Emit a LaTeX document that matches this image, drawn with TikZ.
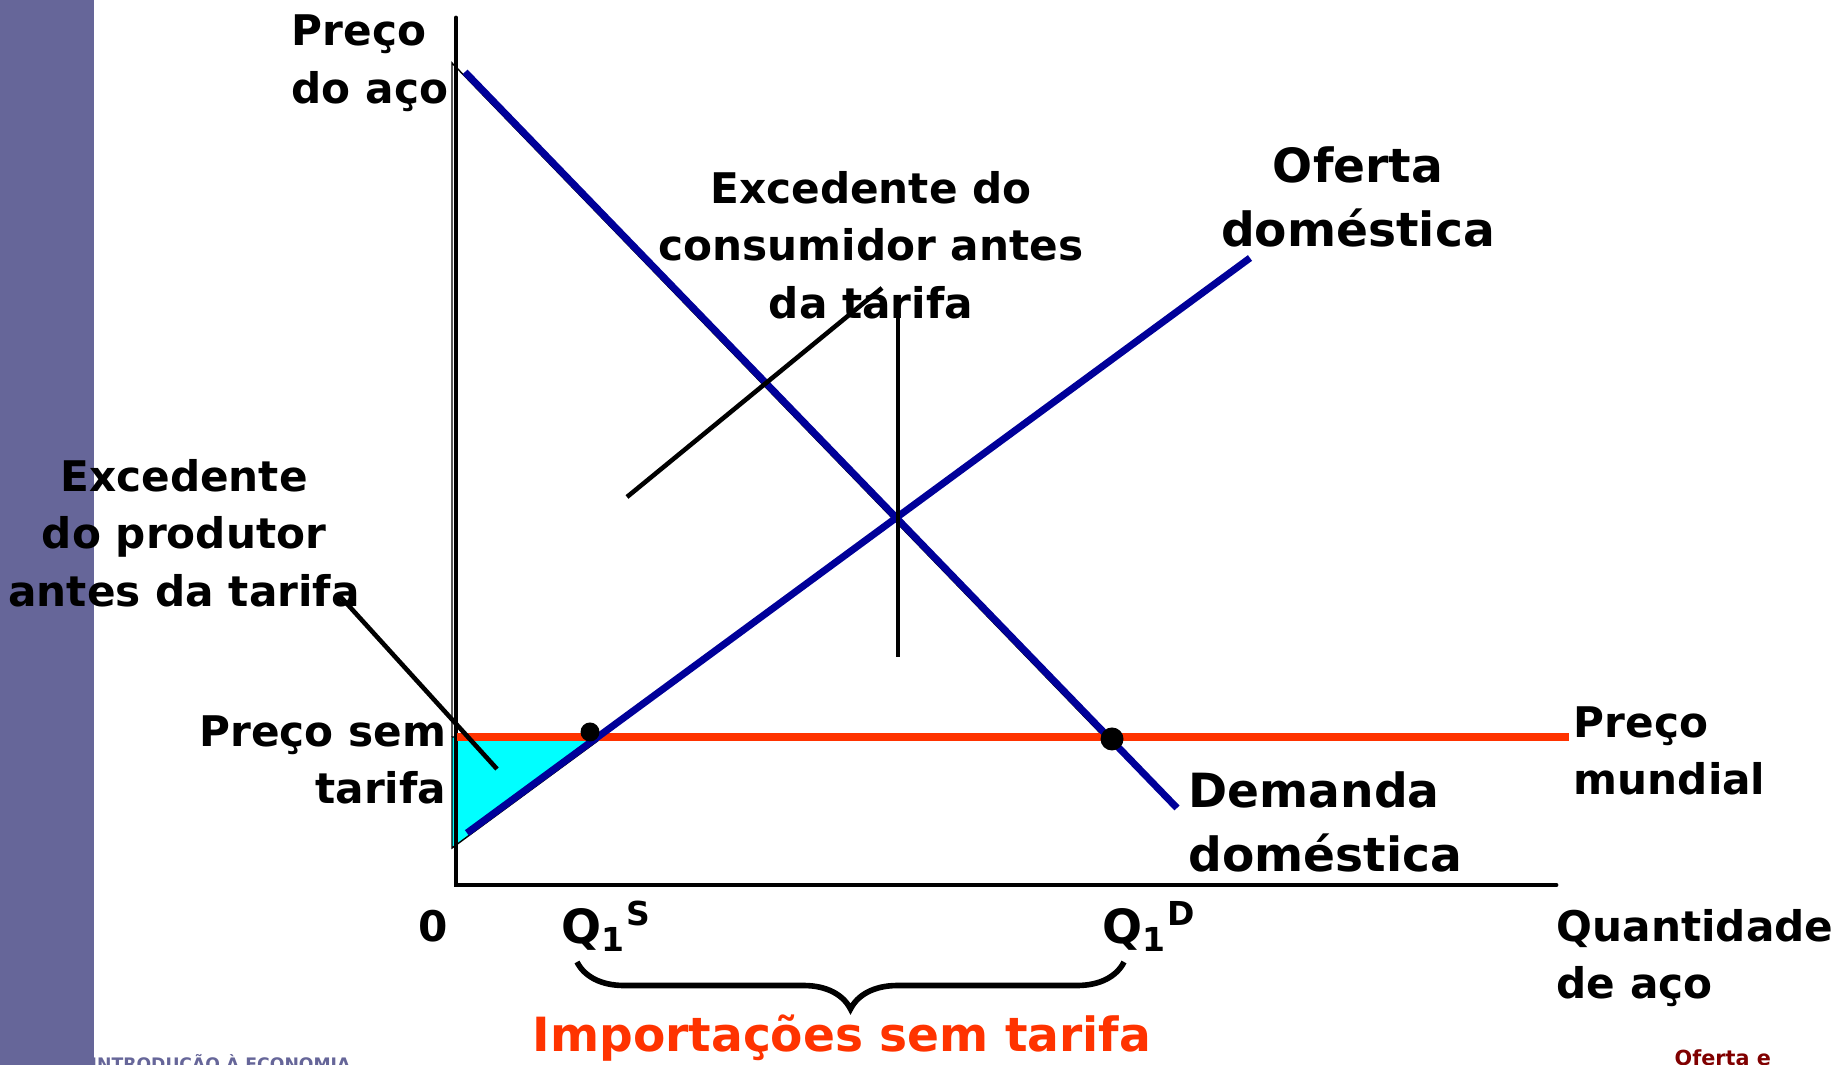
\documentclass[tikz,border=0pt]{standalone}
\usepackage{fontspec}
\setmainfont{DejaVu Sans}
\usepackage{xcolor}
\usetikzlibrary{decorations.pathreplacing}
\definecolor{barra}{HTML}{666699}
\definecolor{azul}{HTML}{000099}
\definecolor{laranja}{HTML}{FF3300}
\definecolor{ciano}{HTML}{00FFFF}
\definecolor{vinho}{HTML}{800000}

\begin{document}
\begin{tikzpicture}[x=0.01cm,y=-0.01cm,
  txt/.style={font=\bfseries\fontsize{12}{16.4}\selectfont,inner sep=0pt},
  big/.style={font=\bfseries\fontsize{13.4}{18.3}\selectfont,inner sep=0pt},
  curva/.style={azul,line width=2pt},
  seta/.style={line width=1.3pt},
  ponto/.style={circle,fill=black,inner sep=0pt,minimum size=#1}]
\clip (0,0) rectangle (1839,1065);
\fill[barra] (0,0) rectangle (94,1065);

\coordinate (O) at (456,885);
\coordinate (Ytop) at (456,18);
\coordinate (Xend) at (1556,885);
\coordinate (D1) at (465,72);
\coordinate (D2) at (1177,808);
\coordinate (S1) at (467,833);
\coordinate (S2) at (1250,258);
\coordinate (W1) at (457,737);
\coordinate (W2) at (1569,737);
\coordinate (V1) at (898,307);
\coordinate (V2) at (898,657);
\coordinate (C1) at (627,497);
\coordinate (C2) at (882,288);
\coordinate (P1) at (339,595);
\coordinate (P2) at (497,769);
\coordinate (B1) at (577,962);
\coordinate (B2) at (1124,962);

\filldraw[fill=ciano,draw=black,thin] (452,737) -- (603,737) -- (452,848) -- cycle;
\draw[thin] (452,737) -- (452,63) -- (1104,737);

\draw[line width=1.4pt,line cap=round] (Ytop) -- (O) -- (Xend);
\draw[laranja,line width=2.1pt] (W1) -- (W2);
\draw[curva] (D1) -- (D2);
\draw[curva] (S1) -- (S2);

\node[ponto=0.19cm] (QSd) at (590,732) {};
\node[ponto=0.23cm] (QDd) at (1112,739) {};

\draw[seta] (V1) -- (V2);
\draw[seta] (C1) -- (C2);
\draw[seta] (P1) -- (P2);
\draw[line width=1.6pt,decorate,decoration={brace,mirror,amplitude=0.47cm}] (B1) -- (B2);

\node[txt,align=left,anchor=west] (PA) at (291,63) {Preço\\do aço};
\node[txt,align=center] (EC) at (871,245) {Excedente do\\consumidor antes\\da tarifa};
\node[big,align=center] (OD) at (1358,197) {Oferta\\doméstica};
\node[txt,align=center] (EP) at (184,533) {Excedente\\do produtor\\antes da tarifa};
\node[txt,align=right,anchor=east] (PS) at (447,760) {Preço sem\\tarifa};
\node[txt,align=left,anchor=west] (PM) at (1573,751) {Preço\\mundial};
\node[big,align=left,anchor=west] (DD) at (1188,822) {Demanda\\doméstica};
\node[txt] (Z) at (433,926) {0};
\node[big,anchor=west] (QS) at (561,926) {Q\textsubscript{1}\textsuperscript{S}};
\node[big,anchor=west] (QD) at (1102,926) {Q\textsubscript{1}\textsuperscript{D}};
\node[txt,align=left,anchor=west] (QA) at (1556,958) {Quantidade\\de aço};
\node[big,text=laranja] (IM) at (842,1038) {Importações sem tarifa};

\node[font=\bfseries\fontsize{4.9}{6}\selectfont,text=barra,anchor=base west,inner sep=0pt] (F1) at (90,1071) {INTRODUÇÃO À ECONOMIA};
\node[font=\bfseries\fontsize{5.9}{7}\selectfont,text=vinho,anchor=base west,inner sep=0pt] (F2) at (1674,1066) {Oferta e};
\end{tikzpicture}
\end{document}
